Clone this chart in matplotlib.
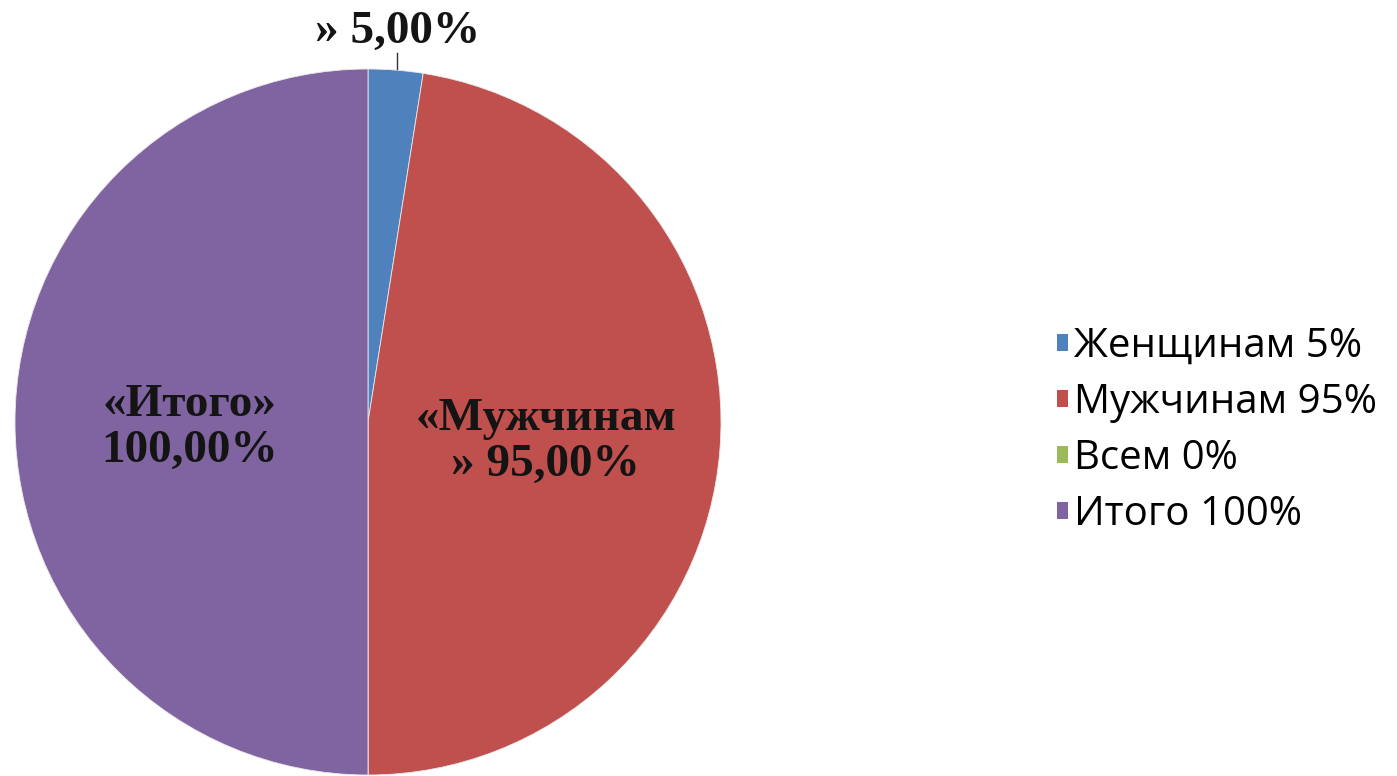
import numpy as np
import matplotlib.pyplot as plt
from matplotlib.patches import Patch

categories = ["Женщинам", "Мужчинам", "Всем", "Итого"]
values = [5, 95, 0, 100]
legend_labels = ["Женщинам 5%", "Мужчинам 95%", "Всем 0%", "Итого 100%"]
slice_labels = ["» 5,00%", "«Мужчинам\n» 95,00%", "", "«Итого»\n100,00%"]
colors = ["#4F81BD", "#C0504D", "#9BBB59", "#8064A2"]

fig = plt.figure(figsize=(13.97, 7.76), dpi=100)
ax = fig.add_axes([15 / 1397, 1 / 776, 706 / 1397, 706 / 776])

wedges, _ = ax.pie(values, colors=colors, startangle=90, counterclock=False,
                   radius=1.0, wedgeprops=dict(linewidth=0.6, edgecolor="#e8e8e8"))
ax.set_xlim(-1, 1)
ax.set_ylim(-1, 1)
ax.set_aspect("equal")
ax.axis("off")

font = dict(family="Liberation Serif", weight="bold", size=34, color="#141414")
for w, lab in zip(wedges, slice_labels):
    if not lab:
        continue
    mid = np.deg2rad((w.theta1 + w.theta2) / 2)
    if w.theta2 - w.theta1 < 20:
        # small slice: label above with a short leader line
        lx = 0.082
        ax.plot([lx, lx], [1.0, 1.045], color="#333333", lw=1, clip_on=False)
        ax.text(lx + 0.003, 1.105, lab, ha="center", va="center", clip_on=False, **font)
    else:
        r = 0.505
        ax.text(r * np.cos(mid), r * np.sin(mid) - 0.017, lab, ha="center", va="center",
                linespacing=1.15, **font)

handles = [Patch(facecolor=c, edgecolor="none") for c in colors]
fig.legend(handles, legend_labels, loc="center left", bbox_to_anchor=(1057 / 1397, 0.445),
           frameon=False, prop=dict(family="Open Sans", size=29), handlelength=0.27,
           handleheight=0.27, handletextpad=0.15, labelspacing=0.38, borderaxespad=0,
           borderpad=0)

fig.savefig("out.png", dpi=100)
